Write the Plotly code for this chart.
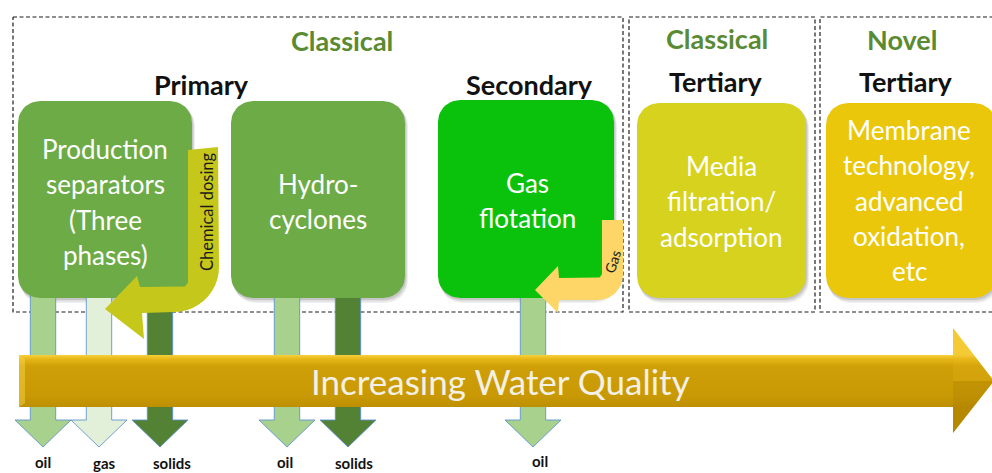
import numpy as np
import plotly.graph_objects as go

# ---------------- data (text content) ----------------
group_labels = ["Classical", "Classical", "Novel"]
stage_labels = ["Primary", "Secondary", "Tertiary", "Tertiary"]
process_lines = [
    ["Production", "separators", "(Three", "phases)"],
    ["Hydro-", "cyclones"],
    ["Gas", "flotation"],
    ["Media", "filtration/", "adsorption"],
    ["Membrane", "technology,", "advanced", "oxidation,", "etc"],
]
stream_labels = ["oil", "gas", "solids", "oil", "solids", "oil"]
stream_kind = ["oil", "gas", "solids", "oil", "solids", "oil"]
dosing_labels = ["Chemical dosing", "Gas"]
quality_label = "Increasing Water Quality"

# ---------------- layout geometry (pixels) ----------------
W, H = 992, 473
FONT = "Lato"

group_pos = [(342, 40), (717, 38), (902, 39)]
stage_pos = [(201, 84), (529, 84), (716, 81), (906, 81)]
frames = [(13, 17, 623, 312, True), (629, 17, 815, 312, True), (820, 17, 1000, 312, False)]
box_rects = [(18, 101, 192, 298), (231, 101, 405, 298), (438, 100, 614, 298),
             (637, 103, 806, 298), (826, 103, 996, 298)]
box_colors = ["#6DAB46", "#6DAB46", "#0AC20C", "#D6D21E", "#EAC70B"]
box_text_x = [105, 318, 527, 721, 909]
box_text_y0 = [149, 184, 183, 166, 130]
LINE_GAP = 35.3

stream_cx = [43, 99, 160, 287, 348, 533]
stream_label_x = [43, 104, 172, 285, 354, 540]
stream_label_y = [462, 463, 463, 462, 463, 461]
stream_colors = {"oil": "#A9D18E", "gas": "#E2F0D9", "solids": "#548235"}

fig = go.Figure()


def add_poly(xs, ys, color, line_color=None, line_width=0, **kw):
    fig.add_trace(go.Scatter(
        x=list(xs) + [xs[0]], y=list(ys) + [ys[0]], mode="lines", fill="toself",
        fillcolor=color, line=dict(color=line_color or color, width=line_width),
        hoverinfo="skip", showlegend=False, **kw))


def arc(cx, cy, r, a0, a1, n=12):
    t = np.radians(np.linspace(a0, a1, n))
    return list(cx + r * np.cos(t)), list(cy + r * np.sin(t))


def rounded(x0, y0, x1, y1, r):
    xs, ys = [], []
    for cx, cy, a0, a1 in [(x1 - r, y0 + r, -90, 0), (x1 - r, y1 - r, 0, 90),
                           (x0 + r, y1 - r, 90, 180), (x0 + r, y0 + r, 180, 270)]:
        ax, ay = arc(cx, cy, r, a0, a1)
        xs += ax
        ys += ay
    return xs, ys


# dashed frames
for x0, y0, x1, y1, closed in frames:
    if closed:
        fx, fy = [x0, x1, x1, x0, x0], [y0, y0, y1, y1, y0]
    else:
        fx, fy = [x1, x0, x0, x1], [y0, y0, y1, y1]
    fig.add_trace(go.Scatter(x=fx, y=fy, mode="lines",
                             line=dict(color="#1E1E1E", width=1.2, dash="4px,2.5px"),
                             hoverinfo="skip", showlegend=False))

# box shadows
for (x0, y0, x1, y1) in box_rects:
    for off, alpha in [(5, 0.06), (3.5, 0.08), (2, 0.10)]:
        sx, sy = rounded(x0 + off * 0.4, y0 + off * 0.6, x1 + off * 0.6, y1 + off, 22)
        add_poly(sx, sy, f"rgba(0,0,0,{alpha})")

# down arrows (streams)
SW, HW, Y0, YH, YT = 12.7, 28, 290, 420, 447
for cx, kind in zip(stream_cx, stream_kind):
    xs = [cx - SW, cx + SW, cx + SW, cx + HW, cx, cx - HW, cx - SW]
    ys = [Y0, Y0, YH, YH, YT, YH, YH]
    add_poly(xs, ys, stream_colors[kind], line_color="rgba(91,145,205,0.85)", line_width=1)

# process boxes
for (x0, y0, x1, y1), col in zip(box_rects, box_colors):
    bx, by = rounded(x0, y0, x1, y1, 22)
    add_poly(bx, by, col)

# chemical dosing bent arrow
cx_, cy_ = [], []
cx_ += [188, 218, 219]
cy_ += [150, 147, 267]
ax, ay = arc(174, 267, 45, 0, 90)
cx_ += ax; cy_ += ay
cx_ += [142, 144, 105, 137, 140]
cy_ += [313, 339, 309, 276, 287]
ax, ay = arc(182, 281, 6, 90, 0)
cx_ += ax; cy_ += ay
add_poly(cx_, cy_, "#C6C71B")

# gas bent arrow
gx, gy = [602, 623], [220, 220]
ax, ay = arc(598, 275, 25, 0, 90)
gx += ax; gy += ay
gx += [559, 558, 535, 558, 559]
gy += [300, 313, 290, 266, 278]
ax, ay = arc(597, 273, 5, 90, 0)
gx += ax; gy += ay
add_poly(gx, gy, "#FED567")

# big "increasing water quality" arrow
bx = [19, 953, 953, 994, 953, 953, 19]
by = [355, 355, 328, 381, 433, 407, 407]
fig.add_trace(go.Scatter(
    x=bx + [bx[0]], y=by + [by[0]], mode="lines", fill="toself",
    line=dict(color="rgba(0,0,0,0)", width=0),
    fillgradient=dict(type="vertical", start=355, stop=407,
                      colorscale=[[0, "#F7D03C"], [0.08, "#E6B616"], [0.22, "#CE9F07"],
                                  [0.8, "#C89904"], [1, "#BE8F02"]]),
    hoverinfo="skip", showlegend=False))
# head facets
add_poly([953, 994, 953], [328, 381, 381], "rgba(235,185,30,0.25)")
add_poly([953, 994, 953], [381, 381, 433], "rgba(150,105,0,0.18)")
# left bevel
add_poly([19, 25, 25, 19], [355, 359, 403, 407], "rgba(250,215,80,0.45)")

# ---------------- text ----------------
ann = []
for t, (x, y) in zip(group_labels, group_pos):
    ann.append(dict(x=x, y=y, text=f"<b>{t}</b>", font=dict(family=FONT, size=27, color="#5A8A32")))
for t, (x, y) in zip(stage_labels, stage_pos):
    ann.append(dict(x=x, y=y, text=f"<b>{t}</b>", font=dict(family=FONT, size=27, color="#111111")))
for lines, x, y0 in zip(process_lines, box_text_x, box_text_y0):
    for i, ln in enumerate(lines):
        ann.append(dict(x=x, y=y0 + i * LINE_GAP, text=ln,
                        font=dict(family=FONT, size=26, color="white")))
for t, x, y in zip(stream_labels, stream_label_x, stream_label_y):
    ann.append(dict(x=x, y=y, text=f"<b>{t}</b>", font=dict(family=FONT, size=15, color="#111111")))
ann.append(dict(x=207, y=212, text=dosing_labels[0], textangle=-90,
                font=dict(family=FONT, size=16.5, color="#1A1A1A")))
ann.append(dict(x=612, y=262, text=dosing_labels[1], textangle=-72,
                font=dict(family=FONT, size=14, color="#1A1A1A")))
ann.append(dict(x=500, y=381, text=quality_label,
                font=dict(family=FONT, size=35, color="#F3F0E6")))
for a in ann:
    a.update(xref="x", yref="y", showarrow=False, xanchor="center", yanchor="middle")

fig.update_layout(
    width=W, height=H, margin=dict(l=0, r=0, t=0, b=0),
    paper_bgcolor="white", plot_bgcolor="white", showlegend=False,
    xaxis=dict(range=[0, W], visible=False, fixedrange=True),
    yaxis=dict(range=[H, 0], visible=False, fixedrange=True),
    annotations=ann,
)
fig.write_html("out.html", config={"displayModeBar": False},
               post_script="document.body.style.margin='0px';document.body.style.overflow='hidden';")
